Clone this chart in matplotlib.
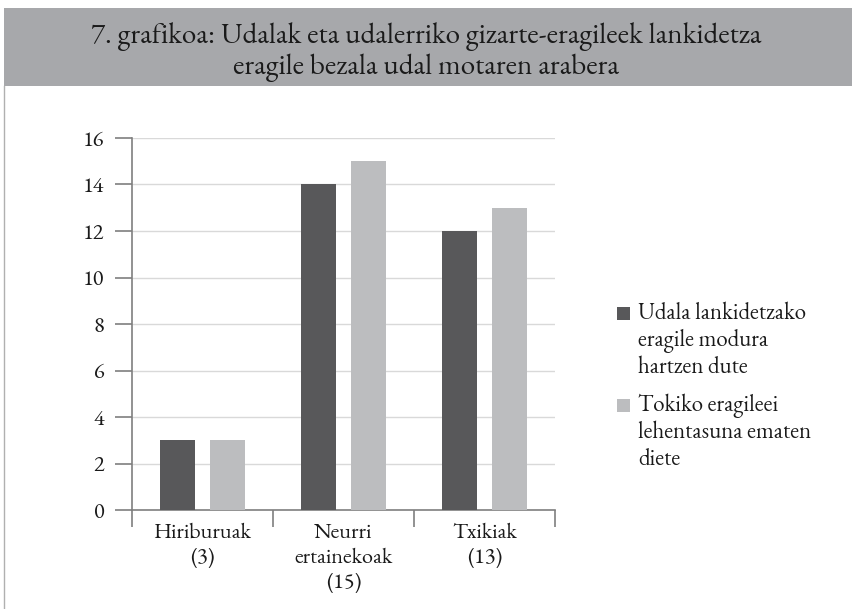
import matplotlib
matplotlib.use('Agg')
import matplotlib.pyplot as plt
import numpy as np
from matplotlib.patches import Rectangle
from matplotlib.lines import Line2D

# datuak
kategoriak = ['Hiriburuak\n(3)', 'Neurri\nertainekoak\n(15)', 'Txikiak\n(13)']
udala = [3, 14, 12]
tokiko = [3, 15, 13]
serie_izenak = ['Udala lankidetzako\neragile modura\nhartzen dute',
                'Tokiko eragileei\nlehentasuna ematen\ndiete']
kolore = ['#58585a', '#bcbdbf']
izenburua = '7. grafikoa: Udalak eta udalerriko gizarte-eragileek lankidetza\neragile bezala udal motaren arabera'

letra = ['EB Garamond', 'Liberation Serif', 'DejaVu Serif']
plt.rcParams['font.family'] = letra

fig = plt.figure(figsize=(8.53, 6.09), dpi=100)

# izenburuaren banda
fig.patches.append(Rectangle((4 / 853, 1 - 86 / 609), 1, 78 / 609, transform=fig.transFigure,
                             facecolor='#a7a8ab', edgecolor='none', zorder=0))
fig.lines.append(Line2D([4 / 853, 4 / 853], [0, 1 - 86 / 609], transform=fig.transFigure,
                        color='#b0b0b0', lw=1))
fig.text(0.5, 1 - 52 / 609, izenburua, ha='center', va='center', fontsize=21,
         linespacing=1.15, color='#1a1a1a', family=letra)

ax = fig.add_axes([132 / 853, 1 - 510 / 609, 423 / 853, 372 / 609])
x = np.arange(len(kategoriak))
w = 0.248
ax.bar(x - 0.177, udala, w, color=kolore[0], zorder=3)
ax.bar(x + 0.177, tokiko, w, color=kolore[1], zorder=3)

ax.set_xlim(-0.5, 2.5)
ax.set_ylim(0, 16)
ax.set_yticks(range(0, 17, 2))
ax.set_yticklabels([str(v) for v in range(0, 17, 2)], family=letra, fontsize=16, color='#1a1a1a')
ax.yaxis.grid(True, color='#d9d9d9', lw=1, zorder=0)
for s in ['top', 'right']:
    ax.spines[s].set_visible(False)
for s in ['left', 'bottom']:
    ax.spines[s].set_color('#7f7f7f')
    ax.spines[s].set_linewidth(1.2)
ax.tick_params(axis='y', length=12, width=1.2, color='#7f7f7f', pad=8)
ax.set_xticks([-0.5, 0.5, 1.5, 2.5])
ax.set_xticklabels([])
ax.tick_params(axis='x', length=12, width=1.2, color='#7f7f7f')
ax.set_xticks(x, minor=True)
ax.set_xticklabels(kategoriak, minor=True, fontsize=16, color='#1a1a1a', linespacing=1.25,
                   family=letra)
ax.tick_params(axis='x', which='minor', length=0, pad=9)

# legenda eskuz
for i, izena in enumerate(serie_izenak):
    y0 = 1 - (302 + i * 92) / 609
    fig.patches.append(Rectangle((617 / 853, y0 - 18 / 609), 13 / 853, 13 / 609,
                                 transform=fig.transFigure, facecolor=kolore[i], edgecolor='none'))
    fig.text(638 / 853, y0, izena, ha='left', va='top', fontsize=16.5, linespacing=1.15,
             color='#1a1a1a', family=letra)

fig.savefig('out.png', dpi=100)
